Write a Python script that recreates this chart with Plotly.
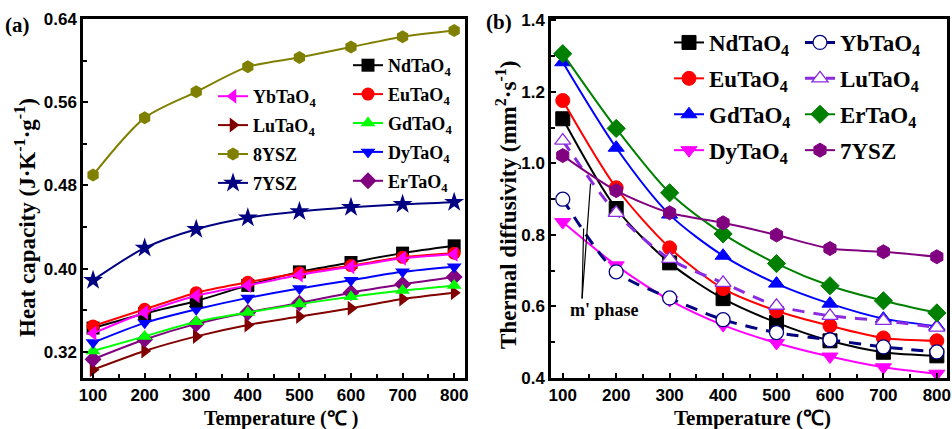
import plotly.graph_objects as go

# ---------------- data ----------------
temps = [100, 200, 300, 400, 500, 600, 700, 800]

# (a) heat capacity, J K^-1 g^-1
cp_Nd = [0.343, 0.357, 0.369, 0.384, 0.397, 0.406, 0.415, 0.422]
cp_Eu = [0.345, 0.361, 0.377, 0.387, 0.396, 0.403, 0.411, 0.415]
cp_Yb = [0.338, 0.358, 0.374, 0.384, 0.394, 0.402, 0.410, 0.414]
cp_Dy = [0.329, 0.348, 0.361, 0.372, 0.381, 0.389, 0.397, 0.402]
cp_Gd = [0.321, 0.335, 0.349, 0.358, 0.366, 0.373, 0.379, 0.384]
cp_Er = [0.313, 0.332, 0.347, 0.358, 0.367, 0.377, 0.385, 0.392]
cp_Lu = [0.303, 0.321, 0.335, 0.346, 0.354, 0.362, 0.371, 0.377]
cp_8YSZ = [0.490, 0.545, 0.570, 0.594, 0.603, 0.613, 0.623, 0.629]
cp_7YSZ = [0.389, 0.420, 0.438, 0.449, 0.455, 0.459, 0.462, 0.464]

# (b) thermal diffusivity, mm^2 s^-1
a_Nd = [1.125, 0.874, 0.722, 0.622, 0.555, 0.504, 0.472, 0.462]
a_Eu = [1.176, 0.932, 0.764, 0.650, 0.588, 0.546, 0.512, 0.504]
a_Gd = [1.283, 1.044, 0.857, 0.742, 0.664, 0.608, 0.566, 0.545]
a_Er = [1.307, 1.098, 0.918, 0.803, 0.720, 0.658, 0.616, 0.582]
a_Dy = [0.836, 0.715, 0.618, 0.548, 0.498, 0.460, 0.430, 0.412]
a_Yb = [0.900, 0.697, 0.624, 0.563, 0.527, 0.507, 0.487, 0.473]
a_Lu = [1.064, 0.862, 0.733, 0.666, 0.602, 0.574, 0.560, 0.541]
a_7YSZ = [1.022, 0.924, 0.862, 0.834, 0.800, 0.762, 0.753, 0.739]

x_ticks = [100, 200, 300, 400, 500, 600, 700, 800]
cp_ticks = [0.32, 0.40, 0.48, 0.56, 0.64]
a_ticks = [0.4, 0.6, 0.8, 1.0, 1.2, 1.4]

SERIF = "Liberation Serif"
SANS = "Liberation Sans"

W, H = 952, 429


def px(x):
    return x / W


def py(y):
    return 1 - y / H


fig = go.Figure()


def sub4(s):
    return s.replace("TaO4", "TaO<sub>4</sub>")


# ---------------- panel (a) ----------------
left_series = [
    ("NdTaO4", cp_Nd, "#000000", "square", "legend2"),
    ("EuTaO4", cp_Eu, "#FF0000", "circle", "legend2"),
    ("GdTaO4", cp_Gd, "#00FF00", "triangle-up", "legend2"),
    ("DyTaO4", cp_Dy, "#0000FF", "triangle-down", "legend2"),
    ("ErTaO4", cp_Er, "#800080", "diamond", "legend2"),
    ("YbTaO4", cp_Yb, "#FF00FF", "triangle-left", "legend"),
    ("LuTaO4", cp_Lu, "#800000", "triangle-right", "legend"),
    ("8YSZ", cp_8YSZ, "#808000", "hexagon", "legend"),
    ("7YSZ", cp_7YSZ, "#000080", "star", "legend"),
]
draw_order = ["LuTaO4", "ErTaO4", "GdTaO4", "DyTaO4", "NdTaO4", "EuTaO4", "YbTaO4", "8YSZ", "7YSZ"]
legend_order = ["NdTaO4", "EuTaO4", "GdTaO4", "DyTaO4", "ErTaO4", "YbTaO4", "LuTaO4", "8YSZ", "7YSZ"]
lmap = {s[0]: s for s in left_series}
for name in draw_order:
    _, vals, col, sym, lg = lmap[name]
    fig.add_trace(go.Scatter(
        x=temps, y=vals, name=sub4(name), mode="lines+markers",
        line=dict(color=col, width=2, shape="spline", smoothing=0.8),
        marker=dict(symbol=sym, size=13 if sym != "star" else 15, color=col),
        xaxis="x", yaxis="y", legend=lg, legendgroup="a_" + name,
        legendrank=legend_order.index(name) + 1,
    ))

# ---------------- panel (b) ----------------
right_series = [
    ("NdTaO4", a_Nd, "#000000", "square", "solid", True, "legend3"),
    ("EuTaO4", a_Eu, "#FF0000", "circle", "solid", True, "legend3"),
    ("GdTaO4", a_Gd, "#0000FF", "triangle-up", "solid", True, "legend3"),
    ("DyTaO4", a_Dy, "#FF00FF", "triangle-down", "solid", True, "legend3"),
    ("YbTaO4", a_Yb, "#000080", "circle", "dash", False, "legend4"),
    ("LuTaO4", a_Lu, "#8A2BE2", "triangle-up", "dash", False, "legend4"),
    ("ErTaO4", a_Er, "#008000", "diamond", "solid", True, "legend4"),
    ("7YSZ", a_7YSZ, "#800080", "hexagon", "solid", True, "legend4"),
]
r_order = ["NdTaO4", "EuTaO4", "GdTaO4", "DyTaO4", "YbTaO4", "LuTaO4", "ErTaO4", "7YSZ"]
for name, vals, col, sym, dash, filled, lg in right_series:
    fig.add_trace(go.Scatter(
        x=temps, y=vals, name=sub4(name), mode="lines+markers",
        line=dict(color=col, width=2 if filled else 3, shape="spline", smoothing=0.8,
                  dash="solid" if dash == "solid" else "12px,9px"),
        marker=dict(symbol=sym, size=14, color=col if filled else "white",
                    line=dict(color=col, width=1.0 if filled else 1.3)),
        xaxis="x2", yaxis="y2", legend=lg, legendgroup="b_" + name,
        legendrank=r_order.index(name) + 1,
    ))

# ---------------- axes ----------------
axis_common = dict(
    showline=True, linecolor="black", linewidth=2.5, mirror=True,
    ticks="inside", ticklen=5, tickwidth=2, tickcolor="black",
    showgrid=False, zeroline=False, automargin=False,
    tickfont=dict(family=SANS, size=17, color="black", weight="bold"),
)
minor_x = dict(ticks="inside", ticklen=4, tickwidth=2, tickcolor="black", dtick=50, tick0=50)
fig.update_layout(
    xaxis=dict(domain=[px(83), px(465)], range=[80.5, 821], anchor="y",
               tickvals=x_ticks, minor=minor_x, **axis_common),
    yaxis=dict(domain=[py(378), py(19)], range=[0.295, 0.64], anchor="x",
               tickvals=cp_ticks, tickformat=".2f",
               minor=dict(ticks="inside", ticklen=4, tickwidth=2, tickcolor="black",
                          dtick=0.04, tick0=0.0),
               **axis_common),
    xaxis2=dict(domain=[px(551), px(947)], range=[78, 819], anchor="y2",
                tickvals=x_ticks, minor=minor_x, **axis_common),
    yaxis2=dict(domain=[py(378), py(19)], range=[0.4, 1.404], anchor="x2",
                tickvals=a_ticks, tickformat=".1f",
                minor=dict(ticks="inside", ticklen=4, tickwidth=2, tickcolor="black",
                           dtick=0.1, tick0=0.0),
                **axis_common),
)


# ---------------- legends ----------------
def leg(x_px, y_px, size, gap):
    return dict(x=px(x_px), y=py(y_px), xanchor="left", yanchor="top",
                bgcolor="rgba(0,0,0,0)", borderwidth=0, orientation="v",
                tracegroupgap=gap, itemwidth=30,
                font=dict(family=SERIF, size=size, color="black", weight="bold"))


fig.update_layout(
    legend=leg(213, 78, 18, 2.5),
    legend2=leg(348, 47, 18, 2.5),
    legend3=leg(669, 21, 23, 3),
    legend4=leg(800, 21, 23, 3),
)

# ---------------- annotations ----------------
ann = []
ann.append(dict(xref="paper", yref="paper", x=px(25), y=py(218),
                text="Heat capacity (J·K<sup>-1</sup>·g<sup>-1</sup>)", textangle=-90,
                showarrow=False, xanchor="center", yanchor="middle",
                font=dict(family=SERIF, size=23, color="black", weight="bold")))
ann.append(dict(xref="paper", yref="paper", x=px(507), y=py(205),
                text="Thermal diffusivity (mm<sup>2</sup>·s<sup>-1</sup>)", textangle=-90,
                showarrow=False, xanchor="center", yanchor="middle",
                font=dict(family=SERIF, size=23, color="black", weight="bold")))
ann.append(dict(xref="paper", yref="paper", x=px(281), y=py(418),
                text="Temperature (℃ )", showarrow=False, xanchor="center", yanchor="middle",
                font=dict(family=SERIF, size=20, color="black", weight="bold")))
ann.append(dict(xref="paper", yref="paper", x=px(752), y=py(418),
                text="Temperature (℃)", showarrow=False, xanchor="center", yanchor="middle",
                font=dict(family=SERIF, size=21, color="black", weight="bold")))
ann.append(dict(xref="paper", yref="paper", x=px(17), y=py(25),
                text="(a)", showarrow=False, xanchor="center", yanchor="middle",
                font=dict(family=SERIF, size=21, color="black", weight="bold")))
ann.append(dict(xref="paper", yref="paper", x=px(499), y=py(22),
                text="(b)", showarrow=False, xanchor="center", yanchor="middle",
                font=dict(family=SERIF, size=21, color="black", weight="bold")))
# m' phase label and pointers
ann.append(dict(xref="x2", yref="y2", x=100 + (605 - 563) / 0.534, y=0.59,
                text="m' phase", showarrow=False, xanchor="center", yanchor="middle",
                font=dict(family=SERIF, size=18, color="black", weight="bold")))
for (tx, ty) in [(152, 0.944), (139, 0.818)]:
    ann.append(dict(xref="x2", yref="y2", x=tx, y=ty, axref="x2", ayref="y2",
                    ax=136, ay=0.618, showarrow=True, arrowhead=0, arrowwidth=1.2,
                    arrowcolor="black", text=""))
fig.update_layout(annotations=ann)

fig.update_layout(
    width=W, height=H, margin=dict(l=0, r=0, t=0, b=0, autoexpand=False),
    paper_bgcolor="white", plot_bgcolor="white", showlegend=True,
)

# let the fixed-size figure sit flush in the 952x429 window, without a mode bar
fig.write_html(
    "out.html",
    config={"displayModeBar": False},
    post_script="document.body.style.margin='0';"
                "document.documentElement.style.overflow='hidden';",
)
